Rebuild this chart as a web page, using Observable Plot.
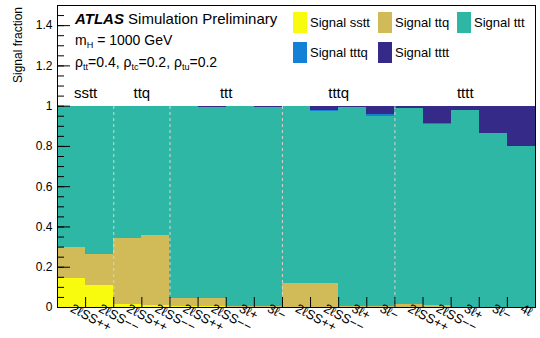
<!DOCTYPE html>
<html>
<head>
<meta charset="utf-8">
<script src="https://cdn.jsdelivr.net/npm/d3@7"></script>
<script src="https://cdn.jsdelivr.net/npm/@observablehq/plot@0.6"></script>
<style>
  body { margin: 0; background: #fff; }
  #chart { position: relative; width: 540px; height: 338px; font-family: "Liberation Sans", Arial, Helvetica, sans-serif; color: #000; }
  #chart svg { position: absolute; left: 0; top: 0; }
  .note { position: absolute; white-space: nowrap; line-height: 1; }
  .note sub { font-size: 65%; vertical-align: -0.35em; }
  .atlas { font-weight: bold; font-style: italic; }
  .leg { position: absolute; display: flex; align-items: center; font-size: 13px; white-space: nowrap; }
  .leg .sw { display: inline-block; width: 14px; height: 21px; margin-right: 3px; }
  .ytitle { position: absolute; left: 12px; top: 7px; font-size: 12px; transform-origin: 0 0; transform: translate(0, 76px) rotate(-90deg); white-space: nowrap; line-height: 12px; }
</style>
</head>
<body>
<div id="chart"></div>
<script>
// Signal regions (bins) and the production-channel groups they belong to
const binLabels = [
  "2ℓSS++", "2ℓSS−−",
  "2ℓSS++", "2ℓSS−−",
  "2ℓSS++", "2ℓSS−−", "3ℓ+", "3ℓ−",
  "2ℓSS++", "2ℓSS−−", "3ℓ+", "3ℓ−",
  "2ℓSS++", "2ℓSS−−", "3ℓ+", "3ℓ−", "4ℓ"
];
const groupNames = ["sstt", "ttq", "ttt", "tttq", "tttt"];
const groupSizes = [2, 2, 4, 4, 5];

// Signal processes, stacked bottom to top
const seriesNames = ["Signal sstt", "Signal ttq", "Signal ttt", "Signal tttq", "Signal tttt"];
const seriesColors = ["#f9fb0e", "#d1bb59", "#2eb7a4", "#1481d6", "#352a87"];

// Fraction of the total signal in each bin, per process
const sstt = [0.145, 0.108, 0.015, 0.010, 0.005, 0.005, 0.001, 0.001, 0.002, 0.002, 0.000, 0.000, 0.002, 0.001, 0.000, 0.000, 0.000];
const ttq  = [0.151, 0.155, 0.329, 0.347, 0.040, 0.040, 0.002, 0.002, 0.116, 0.116, 0.005, 0.005, 0.013, 0.007, 0.001, 0.001, 0.001];
const ttt  = [0.700, 0.733, 0.652, 0.639, 0.951, 0.947, 0.993, 0.989, 0.879, 0.856, 0.989, 0.946, 0.974, 0.900, 0.977, 0.861, 0.798];
const tttq = [0.001, 0.001, 0.001, 0.001, 0.001, 0.001, 0.001, 0.001, 0.001, 0.005, 0.001, 0.006, 0.001, 0.005, 0.001, 0.001, 0.001];
const tttt = [0.003, 0.003, 0.003, 0.003, 0.003, 0.007, 0.003, 0.007, 0.002, 0.021, 0.005, 0.043, 0.010, 0.087, 0.021, 0.137, 0.200];

// Axis ticks
const yMajor = [0, 0.2, 0.4, 0.6, 0.8, 1, 1.2, 1.4];
const yMajorLabels = ["0", "0.2", "0.4", "0.6", "0.8", "1", "1.2", "1.4"];
const yMinor = d3.range(0, 30).map(i => i / 20);

// Long table for the stacked bars
const seriesValues = [sstt, ttq, ttt, tttq, tttt];
const rows = [];
binLabels.forEach((label, i) => {
  seriesNames.forEach((name, s) => {
    rows.push({bin: i, series: name, value: seriesValues[s][i]});
  });
});

// Group extents in bin units
const groups = [];
let start = 0;
groupNames.forEach((name, g) => {
  groups.push({name, start, end: start + groupSizes[g]});
  start += groupSizes[g];
});
const separators = groups.slice(1).map(g => g.start);
const binEdges = d3.range(1, binLabels.length);
const binCenters = binLabels.map((_, i) => i + 0.5);

const font = '"Liberation Sans", Arial, Helvetica, sans-serif';

const plot = Plot.plot({
  width: 540,
  height: 338,
  marginLeft: 57,
  marginRight: 5,
  marginTop: 5,
  marginBottom: 31,
  style: {fontFamily: font, fontSize: "12px", color: "#000", background: "transparent", overflow: "visible"},
  x: {domain: [0, binLabels.length], axis: null},
  y: {domain: [0, 1.5], axis: null},
  color: {domain: seriesNames, range: seriesColors},
  marks: [
    Plot.rectY(rows, {x1: "bin", x2: d => d.bin + 1, y: "value", fill: "series", shapeRendering: "crispEdges"}),
    Plot.ruleX(separators, {x: d => d, y1: 0, y2: 1, stroke: "#d4d4d4", strokeWidth: 1, strokeDasharray: "3,3"}),
    Plot.text(groups, {x: d => (d.start + d.end) / 2, text: "name", frameAnchor: "top", dy: 92, lineAnchor: "bottom", fontSize: 15}),
    Plot.axisX(binEdges, {tickSize: -10, fill: "none", label: null, stroke: "#000"}),
    Plot.axisX(binCenters, {tickSize: 0, tickRotate: 28, tickPadding: 0, tickFormat: d => binLabels[Math.floor(d)], fontSize: 13, label: null}),
    Plot.axisY(yMinor, {tickSize: -7, fill: "none", label: null}),
    Plot.axisY(yMajor, {tickSize: -13, fill: "none", label: null}),
    Plot.axisY(yMajor, {tickSize: 0, tickPadding: 5, tickFormat: (d, i) => yMajorLabels[i], fontSize: 12, label: null}),
    Plot.frame({stroke: "#000"})
  ]
});

const chart = document.getElementById("chart");
chart.appendChild(plot);

// Axis title
const yt = document.createElement("div");
yt.className = "ytitle";
yt.textContent = "Signal fraction";
chart.appendChild(yt);

// Experiment label and model parameters
const notes = [
  {html: '<span class="atlas">ATLAS</span> Simulation Preliminary', top: 11, size: 15},
  {html: 'm<sub>H</sub> = 1000 GeV', top: 33, size: 14},
  {html: 'ρ<sub>tt</sub>=0.4, ρ<sub>tc</sub>=0.2, ρ<sub>tu</sub>=0.2', top: 55, size: 14}
];
notes.forEach(n => {
  const el = document.createElement("div");
  el.className = "note";
  el.style.left = "75px";
  el.style.top = n.top + "px";
  el.style.fontSize = n.size + "px";
  el.innerHTML = n.html;
  chart.appendChild(el);
});

// Legend, three columns
const legendCols = [293, 378, 457];
seriesNames.forEach((name, i) => {
  const el = document.createElement("div");
  el.className = "leg";
  el.style.left = legendCols[i % 3] + "px";
  el.style.top = (12 + Math.floor(i / 3) * 30) + "px";
  const sw = document.createElement("span");
  sw.className = "sw";
  sw.style.background = seriesColors[i];
  el.appendChild(sw);
  el.appendChild(document.createTextNode(name));
  chart.appendChild(el);
});
</script>
</body>
</html>
